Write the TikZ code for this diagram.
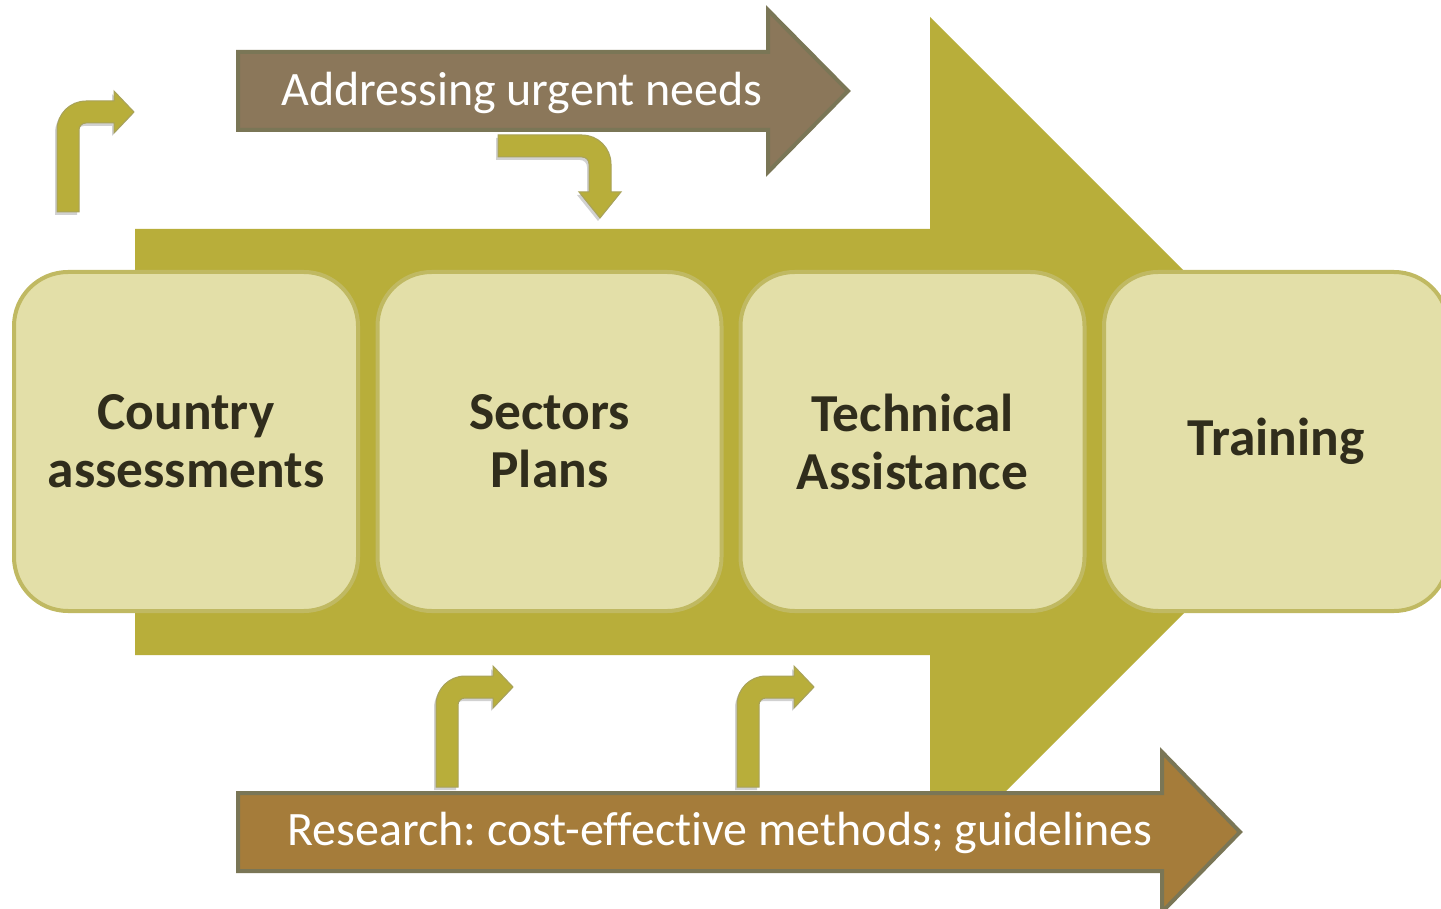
\documentclass[tikz,border=0pt]{standalone}
\usepackage{fontspec}
\setmainfont{Carlito}[Ligatures=NoCommon]
\usetikzlibrary{shadows}
\definecolor{mainarrow}{HTML}{B8AE3A}
\definecolor{boxfill}{HTML}{E3DFA8}
\definecolor{boxline}{HTML}{C0B962}
\definecolor{topfill}{HTML}{8B775A}
\definecolor{botfill}{HTML}{A57C3A}
\definecolor{arrowline}{HTML}{7A7656}
\definecolor{bentline}{HTML}{A8A25A}
\definecolor{boxtext}{HTML}{302D1C}
\tikzset{
 stagebox/.style={draw=boxline, fill=boxfill, line width=2pt, rounded corners=27pt,
   minimum width=172pt, minimum height=169.5pt, align=center, text=boxtext,
   font=\fontsize{26.7}{29}\selectfont\bfseries, inner sep=0pt},
 bandarrow/.style={draw=arrowline, line width=2pt, line join=miter},
 bandlabel/.style={text=white, font=\frenchspacing\fontsize{24}{26}\selectfont, inner sep=0pt},
 bentarrow/.style={fill=mainarrow, draw=bentline, line width=0.5pt,
   drop shadow={shadow xshift=-1pt, shadow yshift=-1.5pt, opacity=0.18, fill=black}},
 bentup/.pic={\path[bentarrow] (0,0) -- (0,-82) .. controls (0,-98) and (13,-111) .. (29,-111)
   -- (57,-111) -- (57,-121) -- (77,-100) -- (57,-79) -- (57,-89) -- (29,-89)
   .. controls (25,-89) and (22,-86) .. (22,-82) -- (22,0) -- cycle;},
 bentdown/.pic={\path[bentarrow] (0,0) -- (84,0) .. controls (100,0) and (113,13) .. (113,29)
   -- (113,57) -- (123,57) -- (102,83) -- (81,57) -- (91,57) -- (91,29)
   .. controls (91,25) and (88,22) .. (84,22) -- (0,22) -- cycle;},
}
\begin{document}
\begin{tikzpicture}[x=0.5pt, y=-0.5pt]
\useasboundingbox[fill=white] (0,0) rectangle (1441,909);
% main arrow
\path[fill=mainarrow] (135,229) -- (930,229) -- (930,17) -- (1355,442) -- (930,867) -- (930,655) -- (135,655) -- cycle;
% stages
\node[stagebox] (country) at (186,441.5) {Country\\assessments};
\node[stagebox] (sectors) at (549.5,441.5) {Sectors\\Plans};
\node[stagebox] (technical) at (912.5,441.5) {Technical\\Assistance};
\node[stagebox] (training) at (1276,441.5) {Training};
% top band arrow
\path[bandarrow, fill=topfill] (238,52) -- (768,52) -- (768,10) -- (848,91) -- (768,172) -- (768,130) -- (238,130) -- cycle;
\node[bandlabel] (urgent) at (522,93) {Addressing urgent needs};
% bottom band arrow
\path[bandarrow, fill=botfill] (238,793) -- (1162,793) -- (1162,752) -- (1240,832) -- (1162,912) -- (1162,871) -- (238,871) -- cycle;
\node[bandlabel] (research) at (720,833) {Research: cost-effective methods; guidelines};
% bent arrows
\pic at (57,212) {bentup};
\pic at (436,787) {bentup};
\pic at (737,787) {bentup};
\pic at (498,135) {bentdown};
\end{tikzpicture}
\end{document}
